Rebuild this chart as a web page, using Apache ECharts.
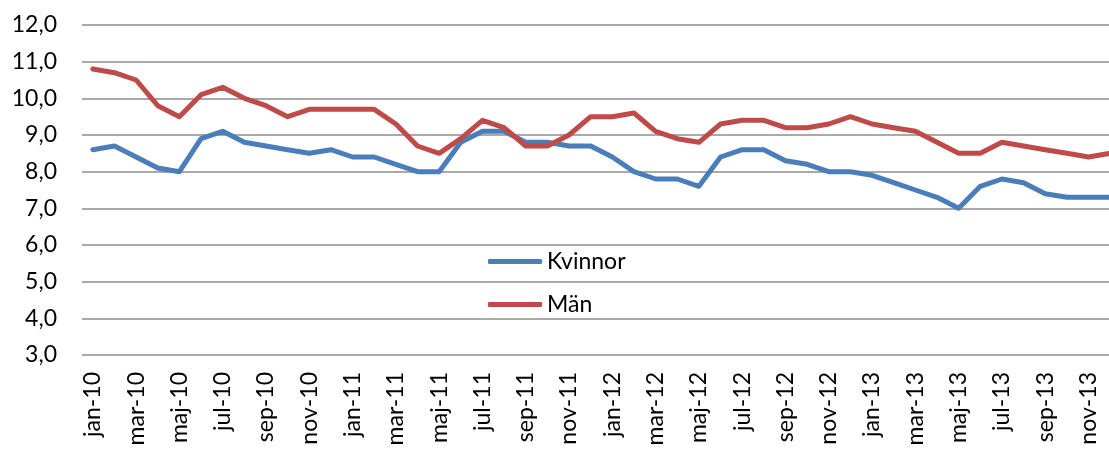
<!DOCTYPE html>
<html>
<head>
<meta charset="utf-8">
<script src="https://cdn.jsdelivr.net/npm/echarts@6/dist/echarts.min.js"></script>
<style>
  html, body { margin: 0; padding: 0; background: #fff; overflow: hidden; width: 1109px; height: 449px; }
  #chart { width: 1121px; height: 449px; }
</style>
</head>
<body>
<div id="chart"></div>
<script>
const categories = [
  'jan-10','feb-10','mar-10','apr-10','maj-10','jun-10','jul-10','aug-10','sep-10','okt-10','nov-10','dec-10',
  'jan-11','feb-11','mar-11','apr-11','maj-11','jun-11','jul-11','aug-11','sep-11','okt-11','nov-11','dec-11',
  'jan-12','feb-12','mar-12','apr-12','maj-12','jun-12','jul-12','aug-12','sep-12','okt-12','nov-12','dec-12',
  'jan-13','feb-13','mar-13','apr-13','maj-13','jun-13','jul-13','aug-13','sep-13','okt-13','nov-13','dec-13'
];
const kvinnor = [
  8.6, 8.7, 8.4, 8.1, 8.0, 8.9, 9.1, 8.8, 8.7, 8.6, 8.5, 8.6,
  8.4, 8.4, 8.2, 8.0, 8.0, 8.8, 9.1, 9.1, 8.8, 8.8, 8.7, 8.7,
  8.4, 8.0, 7.8, 7.8, 7.6, 8.4, 8.6, 8.6, 8.3, 8.2, 8.0, 8.0,
  7.9, 7.7, 7.5, 7.3, 7.0, 7.6, 7.8, 7.7, 7.4, 7.3, 7.3, 7.3
];
const man = [
  10.8, 10.7, 10.5, 9.8, 9.5, 10.1, 10.3, 10.0, 9.8, 9.5, 9.7, 9.7,
  9.7, 9.7, 9.3, 8.7, 8.5, 8.9, 9.4, 9.2, 8.7, 8.7, 9.0, 9.5,
  9.5, 9.6, 9.1, 8.9, 8.8, 9.3, 9.4, 9.4, 9.2, 9.2, 9.3, 9.5,
  9.3, 9.2, 9.1, 8.8, 8.5, 8.5, 8.8, 8.7, 8.6, 8.5, 8.4, 8.5
];
const seriesNames = ['Kvinnor', 'Män'];
const yMin = 3, yMax = 12, yStep = 1;

const FONT = 'Lato';
const legendBase = {
  orient: 'vertical',
  left: 483,
  itemWidth: 54,
  itemHeight: 5,
  icon: 'roundRect',
  textStyle: { fontFamily: FONT, fontSize: 23, color: '#000' }
};
const chart = echarts.init(document.getElementById('chart'), null, { renderer: 'canvas' });
chart.setOption({
  animation: false,
  backgroundColor: '#ffffff',
  textStyle: { fontFamily: FONT },
  grid: { left: 82, right: 0, top: 25, bottom: 94, containLabel: false },
  legend: [
    Object.assign({}, legendBase, { top: 245, data: [seriesNames[0]] }),
    Object.assign({}, legendBase, { top: 288, data: [seriesNames[1]] })
  ],
  xAxis: {
    type: 'category',
    data: categories,
    boundaryGap: true,
    axisLine: { show: false },
    axisTick: { show: false },
    axisLabel: {
      interval: 1,
      rotate: 90,
      margin: 17,
      fontFamily: FONT,
      fontSize: 23,
      color: '#000'
    },
    splitLine: { show: false }
  },
  yAxis: {
    type: 'value',
    min: yMin,
    max: yMax,
    interval: yStep,
    axisLine: { show: false },
    axisTick: { show: false },
    axisLabel: {
      margin: 25,
      fontFamily: FONT,
      fontSize: 23,
      color: '#000',
      formatter: v => v.toFixed(1).replace('.', ',')
    },
    splitLine: { show: true, lineStyle: { color: '#8c8c8c', width: 1.5 } }
  },
  series: [
    {
      name: seriesNames[0],
      type: 'line',
      data: kvinnor,
      symbol: 'none',
      color: '#4a7ebb',
      lineStyle: { color: '#4a7ebb', width: 5, cap: 'round', join: 'round' }
    },
    {
      name: seriesNames[1],
      type: 'line',
      data: man,
      symbol: 'none',
      color: '#be4b48',
      lineStyle: { color: '#be4b48', width: 5, cap: 'round', join: 'round' }
    }
  ]
});
</script>
</body>
</html>
